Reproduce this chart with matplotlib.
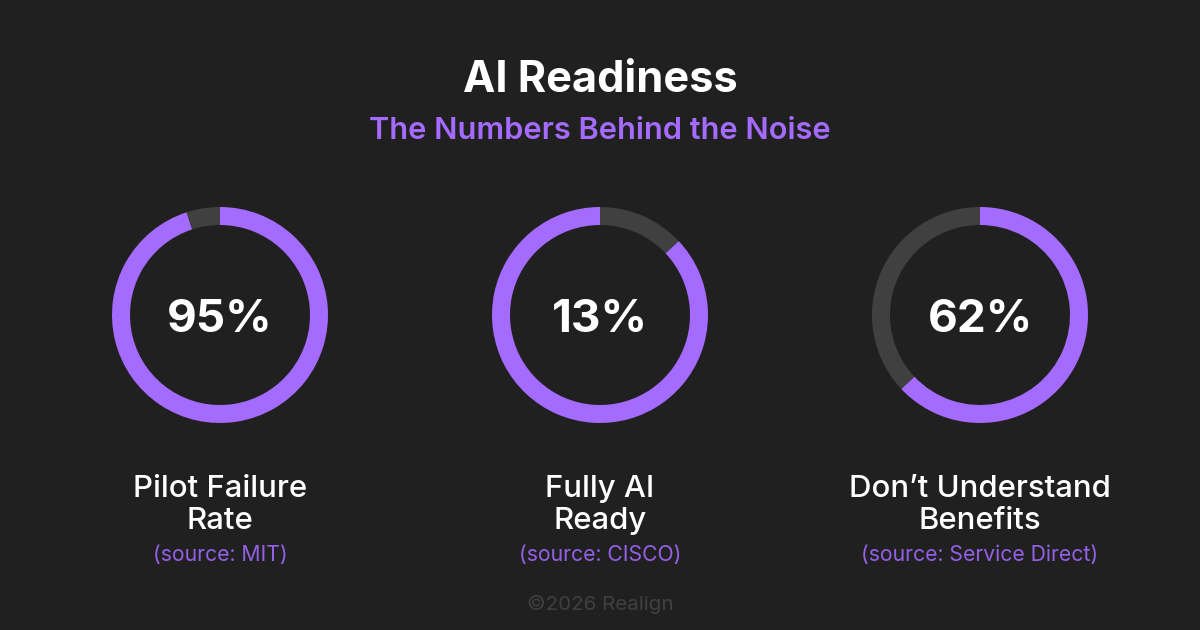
import matplotlib
matplotlib.use("Agg")
import matplotlib.pyplot as plt

title = "AI Readiness"
subtitle = "The Numbers Behind the Noise"
center_labels = ["95%", "13%", "62%"]
purple_shares = [95, 87, 63]
gray_shares = [5, 13, 37]
gray_first = [False, True, False]
names = ["Pilot Failure\nRate", "Fully AI\nReady", "Don\u2019t Understand\nBenefits"]
sources = ["(source: MIT)", "(source: CISCO)", "(source: Service Direct)"]
footer = "\u00a92026 Realign"

BG = "#202020"
PURPLE = "#a56bff"
SOURCE = "#9560e8"
GRAY = "#404040"
W, H = 1200, 630
plt.rcParams["font.family"] = ["Inter", "DejaVu Sans"]

fig = plt.figure(figsize=(W / 100, H / 100), dpi=100, facecolor=BG)
centers_x = [220, 600, 980]
cy = 315
R = 108

for cx, lab, p, g, gf, nm, src in zip(centers_x, center_labels, purple_shares, gray_shares, gray_first, names, sources):
    ax = fig.add_axes([(cx - R) / W, 1 - (cy + R) / H, 2 * R / W, 2 * R / H])
    vals = [g, p] if gf else [p, g]
    cols = [GRAY, PURPLE] if gf else [PURPLE, GRAY]
    ax.pie(vals, colors=cols, startangle=90, counterclock=False, radius=1,
           wedgeprops=dict(width=18 / R, linewidth=0))
    ax.set_xlim(-1, 1)
    ax.set_ylim(-1, 1)
    ax.set_aspect("equal")
    ax.axis("off")
    fig.text(cx / W, 1 - (cy + 5) / H, lab, color="white", fontsize=33, fontweight="bold", ha="center", va="center")
    l1, l2 = nm.split("\n")
    fig.text(cx / W, 1 - 489 / H, l1, color="white", fontsize=22.4, fontweight="medium", ha="center", va="center")
    fig.text(cx / W, 1 - 521 / H, l2, color="white", fontsize=22.4, fontweight="medium", ha="center", va="center")
    fig.text(cx / W, 1 - 555 / H, src, color=SOURCE, fontsize=15.2, ha="center", va="center")

fig.text(0.5, 1 - 80 / H, title, color="white", fontsize=31.2, fontweight="bold", ha="center", va="center")
fig.text(0.5, 1 - 131 / H, subtitle, color=PURPLE, fontsize=22.1, fontweight="semibold", ha="center", va="center")
fig.text(0.5, 1 - 605 / H, footer, color="#404040", fontsize=14.8, ha="center", va="center")

fig.savefig("out.png", dpi=100, facecolor=BG)
